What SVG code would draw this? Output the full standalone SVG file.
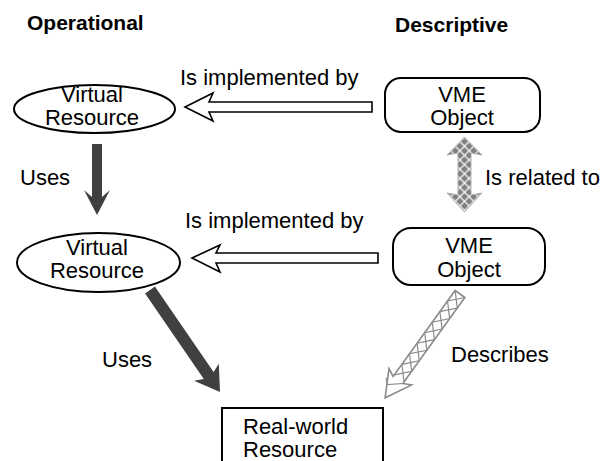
<svg xmlns="http://www.w3.org/2000/svg" width="604" height="461" viewBox="0 0 604 461">
<style>
text{font-family:"Liberation Sans",Arial,sans-serif;font-size:22px;fill:#000}
.title{font-weight:bold;font-size:21px}
.node{fill:#fff;stroke:#000;stroke-width:2}
.hollow{fill:#fff;stroke:#000;stroke-width:1.6;stroke-linejoin:miter}
.dark{fill:#404040;stroke:none}
.lattice{fill:#fff;stroke:#8c8c8c;stroke-width:1.6}
.latline{fill:none;stroke:#8c8c8c;stroke-width:1.2}
.mid{text-anchor:middle}
</style>
<defs>
<pattern id="diam" patternUnits="userSpaceOnUse" x="464.5" y="137" width="6.5" height="6.5" patternTransform="rotate(45 464.5 137)">
<rect width="6.5" height="6.5" fill="#fff"/>
<rect x="0.6" y="0.6" width="5.3" height="5.3" fill="#808080"/>
</pattern>
</defs>
<rect width="604" height="461" fill="#fff"/>
<text class="title" x="27" y="30">Operational</text>
<text class="title" x="395" y="32">Descriptive</text>
<g id="connectors">
<polygon class="hollow" points="185,107 213,93 209,102 372,102 372,112 209,112 213,121"/>
<text x="180" y="85">Is implemented by</text>
<polygon class="hollow" points="192,258 220,245 216,253 378,253 378,263 216,263 220,272"/>
<text x="185" y="228">Is implemented by</text>
<polygon class="dark" points="92,144 102,144 102,197 110,190 97,215 84,190 92,197"/>
<text x="20" y="185">Uses</text>
<polygon class="dark" points="154.9,286.6 213.6,372.1 218.8,363.7 220,392 194,380.7 203.8,378.9 145.1,293.4"/>
<text x="102" y="367">Uses</text>
<polygon fill="url(#diam)" stroke="#a0a0a0" stroke-width="0.8" points="464.5,137 482,155 471,153 471,195 482,193 464.5,212 447,193 458,195 458,153 447,155"/>
<text x="485" y="185">Is related to</text>
<g transform="translate(460,294) rotate(125.8)">
<polygon class="lattice" points="0,-6 106,-6 102,-14 128,0 102,14 106,6 0,6"/>
<polyline class="latline" points="0,-6 13,6 26,-6 39,6 52,-6 65,6 78,-6 91,6 104,-6"/>
<polyline class="latline" points="0,6 13,-6 26,6 39,-6 52,6 65,-6 78,6 91,-6 104,6"/>
<polyline class="latline" points="106,-6 116,6 111,11"/>
</g>
<text x="451" y="362">Describes</text>
</g>
<g id="vr1">
<ellipse class="node" cx="94.5" cy="109" rx="80.5" ry="24"/>
<text class="mid" x="92" y="102">Virtual</text>
<text class="mid" x="92" y="125">Resource</text>
</g>
<g id="vr2">
<ellipse class="node" cx="98.5" cy="262.5" rx="81.5" ry="29.5"/>
<text class="mid" x="97" y="255">Virtual</text>
<text class="mid" x="97" y="278">Resource</text>
</g>
<g id="vme1">
<rect class="node" x="385" y="78" width="155" height="54" rx="16"/>
<text class="mid" x="462" y="102">VME</text>
<text class="mid" x="462" y="125">Object</text>
</g>
<g id="vme2">
<rect class="node" x="393" y="228" width="152" height="57" rx="18"/>
<text class="mid" x="469" y="253">VME</text>
<text class="mid" x="469" y="277">Object</text>
</g>
<g id="rw">
<rect class="node" x="222" y="408" width="161" height="70"/>
<text x="243" y="434">Real-world</text>
<text x="243" y="457">Resource</text>
</g>
</svg>
